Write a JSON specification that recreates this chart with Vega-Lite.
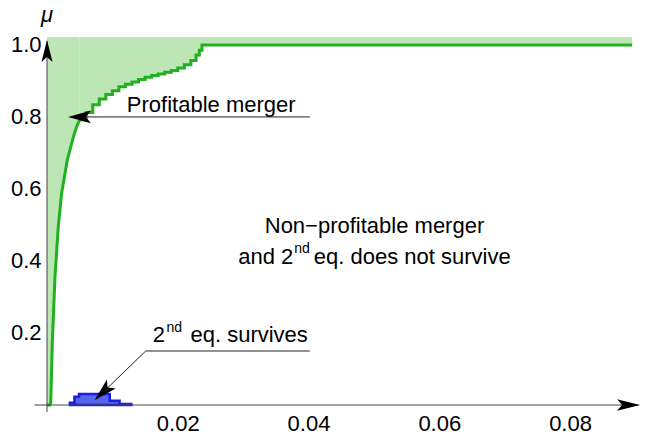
{
  "$schema": "https://vega.github.io/schema/vega-lite/v6.json",
  "width": 593,
  "height": 368,
  "autosize": {"type": "none"},
  "padding": {"left": 47, "top": 37, "right": 25, "bottom": 32},
  "background": "white",
  "config": {
    "view": {"stroke": null},
    "axis": {"grid": false, "domain": false, "ticks": false, "labelFont": "Liberation Sans", "labelFontSize": 22, "labelColor": "#000000", "title": null}
  },
  "datasets": {
    "greenLow": [
      {"x": 0, "y": 0}, {"x": 0.00041, "y": 0}, {"x": 0.00057, "y": 0.005},
      {"x": 0.00081, "y": 0.172}, {"x": 0.00122, "y": 0.356}, {"x": 0.00172, "y": 0.494},
      {"x": 0.00224, "y": 0.589}, {"x": 0.00311, "y": 0.681}, {"x": 0.00402, "y": 0.744},
      {"x": 0.00454, "y": 0.773}, {"x": 0.0050, "y": 0.792}
    ],
    "greenUp": [
      {"x": 0.0050, "y": 0.792}, {"x": 0.0060, "y": 0.812}, {"x": 0.0070, "y": 0.834},
      {"x": 0.0080, "y": 0.850}, {"x": 0.0090, "y": 0.862}, {"x": 0.0100, "y": 0.873},
      {"x": 0.0110, "y": 0.884}, {"x": 0.0120, "y": 0.891}, {"x": 0.0130, "y": 0.897},
      {"x": 0.0140, "y": 0.904}, {"x": 0.0150, "y": 0.910}, {"x": 0.0160, "y": 0.915},
      {"x": 0.0170, "y": 0.919}, {"x": 0.0180, "y": 0.924}, {"x": 0.0190, "y": 0.929},
      {"x": 0.0200, "y": 0.936}, {"x": 0.0210, "y": 0.945}, {"x": 0.0220, "y": 0.957},
      {"x": 0.0228, "y": 0.972}, {"x": 0.0233, "y": 0.985}, {"x": 0.0237, "y": 1.0},
      {"x": 0.0895, "y": 1.0}
    ],
    "blue": [
      {"x": 0.0035, "y": 0.0064}, {"x": 0.0042, "y": 0.023}, {"x": 0.0049, "y": 0.0306},
      {"x": 0.0096, "y": 0.012}, {"x": 0.0111, "y": 0.003}, {"x": 0.0129, "y": 0.003}
    ],
    "axes": [
      {"x": 0, "y": -0.02, "x2": 0, "y2": 1.01},
      {"x": -0.0019, "y": 0, "x2": 0.0905, "y2": 0}
    ],
    "leaders": [
      {"x": 0.0058, "y": 0.8, "x2": 0.0402, "y2": 0.8},
      {"x": 0.0151, "y": 0.15, "x2": 0.0402, "y2": 0.15},
      {"x": 0.0151, "y": 0.15, "x2": 0.0075, "y2": 0.0165}
    ],
    "heads": [
      {"id": "yaxis", "x": 0, "y": 1.0139},
      {"id": "xaxis", "x": 0.0907, "y": 0},
      {"id": "profit", "x": 0.00321, "y": 0.8},
      {"id": "survive", "x": 0.0073, "y": 0.0139}
    ],
    "texts": [
      {"t": "Profitable merger", "x": 0.01221, "y": 0.814, "role": "left"},
      {"t": "Non−profitable merger", "x": 0.05009, "y": 0.477, "role": "center"},
      {"t": "and 2", "x": 0.03767, "y": 0.392, "role": "right"},
      {"t": "nd", "x": 0.03782, "y": 0.422, "role": "sup"},
      {"t": "eq. does not survive", "x": 0.04081, "y": 0.392, "role": "left"},
      {"t": "2", "x": 0.01617, "y": 0.175, "role": "left"},
      {"t": "nd", "x": 0.01827, "y": 0.204, "role": "sup"},
      {"t": "eq. survives", "x": 0.02194, "y": 0.175, "role": "left"},
      {"t": "s", "x": 0.1003, "y": -0.019, "role": "left"},
      {"t": "μ", "x": 0, "y": 1.064, "role": "mu"}
    ]
  },
  "encoding": {
    "x": {"field": "x", "type": "quantitative", "scale": {"domain": [0, 0.0907], "nice": false, "zero": false},
          "axis": {"values": [0.02, 0.04, 0.06, 0.08], "format": ".2f", "labelPadding": 8, "title": null}},
    "y": {"field": "y", "type": "quantitative", "scale": {"domain": [0, 1.022], "nice": false, "zero": false},
          "axis": {"values": [0.2, 0.4, 0.6, 0.8, 1.0], "format": ".1f", "labelPadding": 6, "title": null}}
  },
  "layer": [
    {"data": {"name": "greenLow"}, "mark": {"type": "area", "color": "#bce6b4", "interpolate": "linear", "opacity": 1}, "encoding": {"y2": {"datum": 1.022}}},
    {"data": {"name": "greenUp"}, "mark": {"type": "area", "color": "#bce6b4", "interpolate": "step-after", "opacity": 1}, "encoding": {"y2": {"datum": 1.022}}},
    {"data": {"name": "blue"}, "mark": {"type": "area", "interpolate": "step-after", "fill": "#5465ef", "stroke": "#1c1ce6", "strokeWidth": 2.5, "fillOpacity": 1}, "encoding": {"y2": {"datum": 0}}},
    {"data": {"name": "greenLow"}, "mark": {"type": "line", "color": "#20b020", "strokeWidth": 3, "interpolate": "linear"}, "encoding": {}},
    {"data": {"name": "greenUp"}, "mark": {"type": "line", "color": "#20b020", "strokeWidth": 3, "interpolate": "step-after"}, "encoding": {}},
    {"data": {"name": "axes"}, "mark": {"type": "rule", "color": "#444444", "strokeWidth": 1}, "encoding": {"x2": {"field": "x2"}, "y2": {"field": "y2"}}},
    {"data": {"name": "leaders"}, "mark": {"type": "rule", "color": "#222222", "strokeWidth": 1}, "encoding": {"x2": {"field": "x2"}, "y2": {"field": "y2"}}},
    {"data": {"name": "heads"}, "transform": [{"filter": "datum.id === 'yaxis'"}], "mark": {"type": "point", "shape": "M0,0 L0.5,2 L0,1.55 L-0.5,2 Z", "filled": true, "color": "#000000", "opacity": 1, "size": 484, "angle": 0, "strokeWidth": 0}},
    {"data": {"name": "heads"}, "transform": [{"filter": "datum.id === 'xaxis'"}], "mark": {"type": "point", "shape": "M0,0 L0.5,2 L0,1.55 L-0.5,2 Z", "filled": true, "color": "#000000", "opacity": 1, "size": 529, "angle": 90, "strokeWidth": 0}},
    {"data": {"name": "heads"}, "transform": [{"filter": "datum.id === 'profit'"}], "mark": {"type": "point", "shape": "M0,0 L0.55,2 L0,1.55 L-0.55,2 Z", "filled": true, "color": "#000000", "opacity": 1, "size": 529, "angle": 270, "strokeWidth": 0}},
    {"data": {"name": "heads"}, "transform": [{"filter": "datum.id === 'survive'"}], "mark": {"type": "point", "shape": "M0,0 L0.55,2 L0,1.55 L-0.55,2 Z", "filled": true, "color": "#000000", "opacity": 1, "size": 529, "angle": 226, "strokeWidth": 0}},
    {"data": {"name": "texts"}, "transform": [{"filter": "datum.role === 'left'"}], "mark": {"type": "text", "align": "left", "baseline": "alphabetic", "font": "Liberation Sans", "fontSize": 22, "color": "#000000"}, "encoding": {"text": {"field": "t"}}},
    {"data": {"name": "texts"}, "transform": [{"filter": "datum.role === 'right'"}], "mark": {"type": "text", "align": "right", "baseline": "alphabetic", "font": "Liberation Sans", "fontSize": 22, "color": "#000000"}, "encoding": {"text": {"field": "t"}}},
    {"data": {"name": "texts"}, "transform": [{"filter": "datum.role === 'center'"}], "mark": {"type": "text", "align": "center", "baseline": "alphabetic", "font": "Liberation Sans", "fontSize": 22, "color": "#000000"}, "encoding": {"text": {"field": "t"}}},
    {"data": {"name": "texts"}, "transform": [{"filter": "datum.role === 'sup'"}], "mark": {"type": "text", "align": "left", "baseline": "alphabetic", "font": "Liberation Sans", "fontSize": 14, "color": "#000000"}, "encoding": {"text": {"field": "t"}}},
    {"data": {"name": "texts"}, "transform": [{"filter": "datum.role === 'mu'"}], "mark": {"type": "text", "align": "center", "baseline": "alphabetic", "font": "Liberation Sans", "fontSize": 22, "fontStyle": "italic", "color": "#000000"}, "encoding": {"text": {"field": "t"}}}
  ]
}
